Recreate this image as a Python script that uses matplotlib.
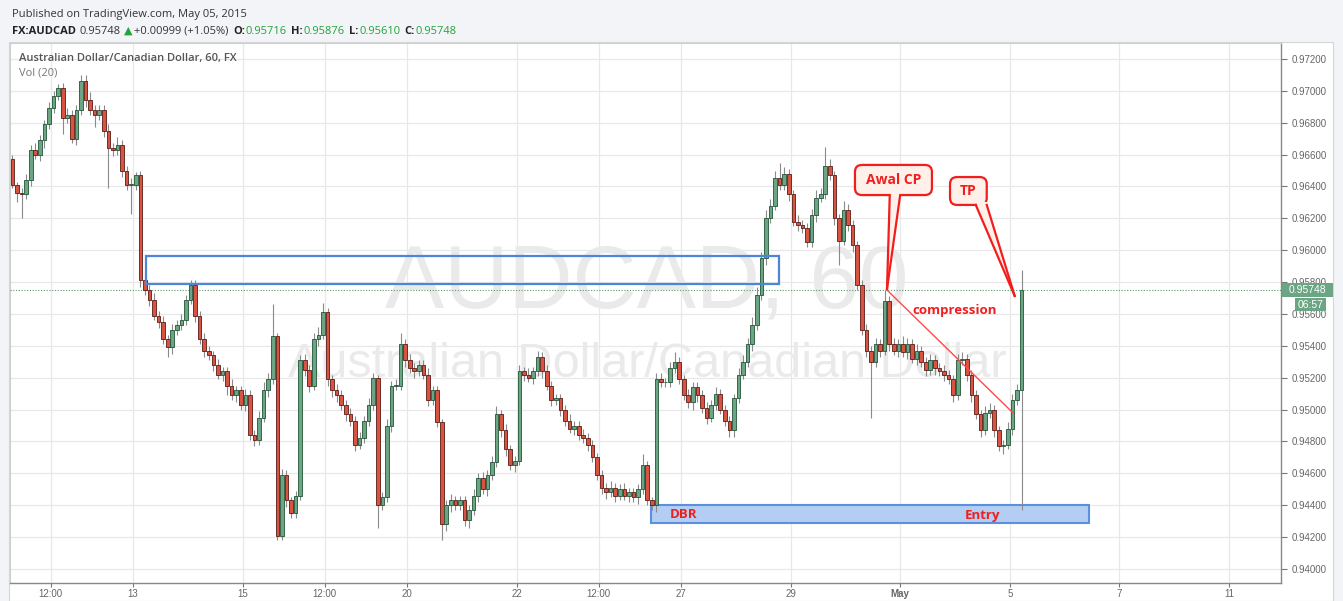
import matplotlib
matplotlib.use("Agg")
import matplotlib.pyplot as plt
from matplotlib.patches import Rectangle, FancyBboxPatch, Polygon
from matplotlib.lines import Line2D
from matplotlib.transforms import IdentityTransform
import numpy as np

# ---------------- data (2-hour candles, AUDCAD) ----------------
first_open = 0.9657
closes = [
    0.9641, 0.9636, 0.9635, 0.9644, 0.9663, 0.9660, 0.9669, 0.9679, 0.9689, 0.9697,
    0.9702, 0.9683, 0.9685, 0.9670, 0.9688, 0.9706, 0.9694, 0.9688, 0.9685, 0.9688,
    0.9675, 0.9664, 0.9663, 0.9666, 0.9650, 0.9641, 0.9641, 0.9647, 0.9581, 0.9575,
    0.9569, 0.9559, 0.9555, 0.9544, 0.9539, 0.9550, 0.9553, 0.9556, 0.9569, 0.9578,
    0.9559, 0.9544, 0.9537, 0.9534, 0.9528, 0.9522, 0.9524, 0.9515, 0.9509, 0.9512,
    0.9503, 0.9509, 0.9484, 0.9481, 0.9495, 0.9512, 0.9519, 0.9546, 0.9421, 0.9459,
    0.9443, 0.9435, 0.9446, 0.9531, 0.9525, 0.9515, 0.9544, 0.9547, 0.9561, 0.9519,
    0.9512, 0.9509, 0.9503, 0.9497, 0.9493, 0.9478, 0.9482, 0.9493, 0.9503, 0.9520,
    0.9440, 0.9445, 0.9490, 0.9515, 0.9515, 0.9541, 0.9531, 0.9526, 0.9524, 0.9528,
    0.9522, 0.9506, 0.9512, 0.9492, 0.9428, 0.9440, 0.9443, 0.9440, 0.9443, 0.9431,
    0.9437, 0.9446, 0.9457, 0.9450, 0.9459, 0.9467, 0.9497, 0.9487, 0.9475, 0.9465,
    0.9468, 0.9524, 0.9522, 0.9520, 0.9524, 0.9533, 0.9524, 0.9515, 0.9506, 0.9507,
    0.9500, 0.9493, 0.9488, 0.9490, 0.9484, 0.9482, 0.9478, 0.9470, 0.9459, 0.9451,
    0.9448, 0.9451, 0.9446, 0.9450, 0.9446, 0.9448, 0.9445, 0.9450, 0.9465, 0.9443,
    0.9440, 0.9519, 0.9517, 0.9517, 0.9526, 0.9530, 0.9519, 0.9509, 0.9505, 0.9514,
    0.9509, 0.9501, 0.9495, 0.9503, 0.9510, 0.9500, 0.9493, 0.9487, 0.9507, 0.9522,
    0.9530, 0.9541, 0.9553, 0.9572, 0.9595, 0.9620, 0.9628, 0.9645, 0.9641, 0.9648,
    0.9635, 0.9618, 0.9616, 0.9614, 0.9605, 0.9622, 0.9633, 0.9635, 0.9653, 0.9647,
    0.9620, 0.9606, 0.9625, 0.9616, 0.9603, 0.9578, 0.9550, 0.9537, 0.9530, 0.9541,
    0.9537, 0.9568, 0.9541, 0.9537, 0.9541, 0.9536, 0.9541, 0.9532, 0.9537, 0.9530,
    0.9525, 0.9531, 0.9526, 0.9524, 0.9522, 0.9519, 0.9509, 0.9531, 0.9532, 0.9522,
    0.9509, 0.9497, 0.9487, 0.9498, 0.9500, 0.9487, 0.9477, 0.9478, 0.9488, 0.9506,
    0.9512, 0.95748,
]
# upper / lower wick lengths in pips
wick_up = [
    3, 2, 3, 4, 3, 4, 3, 3, 4, 3,
    2, 3, 4, 3, 3, 4, 4, 5, 3, 3,
    3, 4, 3, 5, 3, 3, 4, 2, 3, 4,
    3, 4, 3, 4, 3, 4, 3, 4, 3, 3,
    3, 3, 4, 3, 3, 4, 3, 3, 4, 3,
    3, 4, 3, 3, 4, 5, 4, 20, 2, 4,
    3, 2, 3, 3, 4, 3, 4, 5, 6, 3,
    3, 4, 3, 3, 4, 3, 4, 3, 4, 3,
    2, 3, 4, 3, 4, 7, 3, 4, 3, 3,
    3, 4, 3, 3, 2, 3, 4, 3, 3, 3,
    3, 4, 3, 4, 3, 4, 5, 3, 4, 3,
    3, 4, 3, 4, 3, 4, 3, 4, 3, 3,
    3, 3, 4, 3, 3, 4, 3, 3, 3, 3,
    3, 4, 3, 3, 4, 3, 3, 3, 7, 3,
    2, 4, 4, 3, 4, 6, 3, 3, 4, 3,
    3, 3, 4, 3, 4, 3, 3, 3, 3, 4,
    4, 4, 5, 5, 4, 5, 4, 5, 10, 4,
    3, 3, 4, 3, 3, 4, 5, 4, 12, 4,
    3, 3, 6, 4, 3, 3, 3, 4, 3, 4,
    3, 7, 3, 4, 3, 5, 4, 3, 4, 3,
    3, 4, 3, 3, 4, 3, 3, 4, 4, 3,
    3, 3, 3, 4, 4, 3, 3, 3, 4, 4,
    4, 13,
]
wick_lo = [
    2, 6, 15, 3, 4, 3, 4, 5, 3, 3,
    3, 10, 3, 3, 4, 3, 4, 3, 8, 3,
    4, 25, 4, 3, 4, 3, 18, 3, 4, 3,
    4, 3, 4, 3, 6, 4, 3, 3, 3, 3,
    4, 3, 4, 3, 4, 3, 4, 6, 3, 4,
    3, 4, 3, 4, 3, 3, 4, 3, 3, 3,
    4, 3, 3, 3, 4, 4, 3, 4, 3, 4,
    4, 4, 3, 4, 3, 4, 3, 3, 3, 3,
    14, 3, 3, 4, 3, 3, 4, 3, 4, 3,
    3, 4, 3, 3, 10, 4, 4, 3, 3, 4,
    5, 3, 4, 3, 4, 3, 3, 4, 4, 3,
    4, 3, 4, 3, 4, 3, 4, 3, 4, 3,
    4, 3, 3, 4, 3, 3, 4, 3, 3, 4,
    4, 3, 4, 3, 3, 4, 3, 4, 3, 3,
    3, 4, 3, 3, 3, 3, 3, 3, 4, 5,
    4, 3, 4, 3, 3, 3, 3, 4, 4, 3,
    3, 3, 4, 3, 3, 4, 3, 3, 3, 3,
    4, 3, 4, 3, 3, 3, 4, 3, 3, 3,
    4, 15, 3, 4, 4, 3, 3, 4, 35, 3,
    4, 3, 4, 3, 4, 3, 4, 3, 4, 3,
    4, 3, 4, 3, 4, 3, 4, 3, 3, 4,
    4, 3, 4, 3, 3, 4, 3, 5, 3, 4,
    3, 75,
]
x_tick_pos = [-1.5, 0, 2, 3.5, 5, 7, 8.5, 10, 12, 14, 16, 18, 20]
x_tick_labels = ['12:00', '13', '15', '12:00', '20', '22', '12:00', '27', '29', 'May', '5', '7', '11']
y_ticks = [0.940, 0.942, 0.944, 0.946, 0.948, 0.950, 0.952, 0.954, 0.956,
           0.958, 0.960, 0.962, 0.964, 0.966, 0.968, 0.970, 0.972]
last_price = 0.95748

# ---------------- figure ----------------
W, H = 1343, 601
fig = plt.figure(figsize=(W / 100, H / 100), dpi=100)
fig.patch.set_facecolor('#f3f4f7')
fig.patches.append(Rectangle((9 / W, 0), (1333 - 9) / W, 1 - 42 / H,
                             transform=fig.transFigure, fc='white',
                             ec='#d6d6d6', lw=0.8, zorder=-5))

ax = fig.add_axes([10 / W, 1 - 583 / H, 1271 / W, 540 / H])
ax.set_zorder(1)
ax.set_facecolor('white')
x0 = -2.2
n = len(closes)
xpos = x0 + np.arange(n) / 12.0
c = np.array(closes)
o = np.concatenate([[first_open], c[:-1]])
hi = np.maximum(o, c) + np.array(wick_up) * 1e-4
lo = np.minimum(o, c) - np.array(wick_lo) * 1e-4

ax.set_xlim(-2.245, 20.95)
ax.set_ylim(0.93912, 0.97300)

# grid
for yv in y_ticks:
    ax.axhline(yv, color='#e8e8e8', lw=0.9, zorder=0.5)
for xv in x_tick_pos:
    ax.axvline(xv, color='#e8e8e8', lw=0.9, zorder=0.5)

# watermark
ax.text(0.501, 0.552, 'AUDCAD, 60', transform=ax.transAxes, ha='center', va='center',
        fontsize=64, color='#eaeaea', family='Liberation Sans', zorder=1)
ax.text(0.501, 0.404, 'Australian Dollar/Canadian Dollar', transform=ax.transAxes,
        ha='center', va='center', fontsize=35, color='#eaeaea',
        family='Liberation Sans', zorder=1)

# DBR zone
ax.add_patch(Rectangle((9.45, 0.94289), 17.45 - 9.45, 0.94402 - 0.94289,
                       fc='#b4cdf2', ec='#5b8fe0', lw=1.5, zorder=2))

# candles
up = c >= o
ax.vlines(xpos, lo, hi, color='#8a8a8c', lw=0.8, zorder=2.5)
body_h = np.maximum(np.abs(c - o), 0.00003)
ax.bar(xpos, body_h, bottom=np.minimum(o, c), width=0.066,
       color=np.where(up, '#6ba583', '#d75442'),
       edgecolor=np.where(up, '#225437', '#5b1a13'), linewidth=0.6, zorder=3)

# supply zone outline
ax.add_patch(Rectangle((0.237, 0.95788), 11.79 - 0.237, 0.95964 - 0.95788,
                       fill=False, ec='#4d86d9', lw=1.6, zorder=4))

# last price line
ax.axhline(last_price, color='#5a9a72', lw=0.8, ls=(0, (1, 1.5)), zorder=2.6)

RED = '#f21d1d'
# compression line
ax.plot([13.76, 16.06], [0.95750, 0.94979], color='#ff4a4a', lw=1.0, zorder=5)
ax.text(15.0, 0.95619, 'compression', color=RED, fontsize=9.5, fontweight='bold',
        family='Open Sans', ha='center', va='center', zorder=6)
ax.text(9.8, 0.94340, 'DBR', color=RED, fontsize=9.5, fontweight='bold',
        family='Open Sans', ha='left', va='center', zorder=6)
ax.text(15.18, 0.94333, 'Entry', color=RED, fontsize=9.5, fontweight='bold',
        family='Open Sans', ha='left', va='center', zorder=6)

FILL = '#fff0ea'


def callout(text, blo, bhi, base_l, base_r, tip):
    T = ax.transData.transform
    (a0, b0) = T(blo)
    (a1, b1) = T(bhi)
    box = FancyBboxPatch((a0, b0), a1 - a0, b1 - b0,
                         boxstyle='round,pad=0,rounding_size=7',
                         fc=FILL, ec=RED, lw=1.6, transform=IdentityTransform(),
                         zorder=7, clip_on=False)
    ax.add_patch(box)
    bl, br, tp = T(base_l), T(base_r), T(tip)
    tri = Polygon([(bl[0], bl[1] + 3), (br[0], br[1] + 3), (tp[0], tp[1])], closed=True,
                  fc=FILL, ec='none', transform=IdentityTransform(), zorder=8, clip_on=False)
    ax.add_patch(tri)
    for p in (bl, br):
        ax.add_line(Line2D([p[0], tp[0]], [p[1], tp[1]], color=RED, lw=1.6,
                           transform=IdentityTransform(), zorder=9, clip_on=False))
    ax.text((a0 + a1) / 2, (b0 + b1) / 2, text, transform=IdentityTransform(),
            color=RED, fontsize=10, fontweight='bold', family='Open Sans',
            ha='center', va='center', zorder=10)


callout('Awal CP', (13.175, 0.96346), (14.58, 0.96535),
        (13.81, 0.96346), (14.0, 0.96346), (13.76, 0.95757))
callout('TP', (14.91, 0.96284), (15.58, 0.96459),
        (15.38, 0.96284), (15.58, 0.96284), (16.09, 0.95713))

# axes styling
ax.yaxis.tick_right()
ax.set_yticks(y_ticks)
ax.set_yticklabels([f'{v:.5f}' for v in y_ticks])
ax.set_xticks(x_tick_pos)
ax.set_xticklabels(x_tick_labels)
for lbl in ax.get_xticklabels():
    if lbl.get_text() == 'May':
        lbl.set_fontweight('bold')
ax.tick_params(axis='y', length=4, color='#777', labelcolor='#666', labelsize=7, pad=4)
ax.tick_params(axis='x', length=3, color='#777', labelcolor='#666', labelsize=7, pad=1.5)
for lbl in ax.get_yticklabels() + ax.get_xticklabels():
    lbl.set_family('Liberation Sans')
for s in ('right', 'bottom'):
    ax.spines[s].set_color('#888888')
    ax.spines[s].set_linewidth(1.0)
for s in ('left', 'top'):
    ax.spines[s].set_color('#cfcfcf')
    ax.spines[s].set_linewidth(0.8)

# right-axis last price labels
ypx = ax.transData.transform((0, last_price))[1]
fig.patches.append(Rectangle((1282 / W, (ypx - 7) / H), 51 / W, 14 / H,
                             transform=fig.transFigure, fc='#6ba583', ec='none', zorder=5))
fig.text(1307 / W, ypx / H, f'{last_price:.5f}', color='white', fontsize=7.5,
         family='Liberation Sans', ha='center', va='center', zorder=6)
fig.patches.append(Rectangle((1295 / W, (ypx - 21) / H), 31 / W, 13 / H,
                             transform=fig.transFigure, fc='#6ba583', ec='none', zorder=5))
fig.text(1310.5 / W, (ypx - 14.5) / H, '06:57', color='white', fontsize=7.5,
         family='Liberation Sans', ha='center', va='center', zorder=6)

# header texts
renderer = fig.canvas.get_renderer()


def seq(x_px, y_px, parts, size):
    x = x_px
    for s, col, wt, gap in parts:
        t = fig.text(x / W, 1 - y_px / H, s, color=col, fontsize=size, fontweight=wt,
                     family=['Open Sans', 'DejaVu Sans'], ha='left', va='center', zorder=6)
        x += t.get_window_extent(renderer=renderer).width + gap


seq(12, 15, [('Published on TradingView.com, May 05, 2015', '#333333', 'normal', 0)], 8)
GREEN = '#22a43a'
seq(12, 31, [('FX:AUDCAD', '#222222', 'bold', 4),
             ('0.95748', '#333333', 'normal', 3),
             ('\u25B2', GREEN, 'normal', 1),
             ('+0.00999 (+1.05%)', '#333333', 'normal', 5),
             ('O:', '#222222', 'bold', 1), ('0.95716', GREEN, 'normal', 4),
             ('H:', '#222222', 'bold', 1), ('0.95876', GREEN, 'normal', 4),
             ('L:', '#222222', 'bold', 1), ('0.95610', GREEN, 'normal', 4),
             ('C:', '#222222', 'bold', 1), ('0.95748', GREEN, 'normal', 0)], 8)
seq(19, 58, [('Australian Dollar/Canadian Dollar, 60, FX', '#555555', 'semibold', 0)], 8)
seq(19, 73, [('Vol (20)', '#777777', 'normal', 0)], 8)

fig.savefig('out.png', dpi=100, facecolor=fig.get_facecolor())
